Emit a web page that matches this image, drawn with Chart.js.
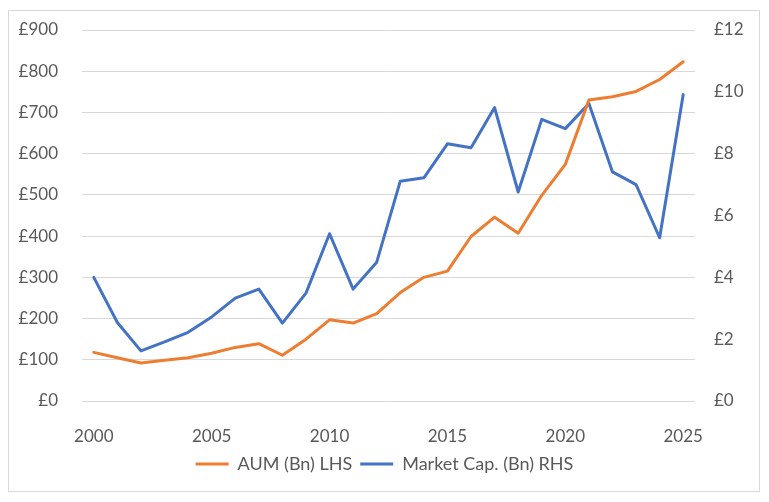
<!DOCTYPE html>
<html>
<head>
<meta charset="utf-8">
<script src="https://cdn.jsdelivr.net/npm/chart.js@4.4.0/dist/chart.umd.min.js"></script>
<style>
    html, body { margin: 0; padding: 0; background: #fff; }
    #wrap { width: 769px; height: 502px; position: relative; }
</style>
</head>
<body>
<div id="wrap"><canvas id="chart"></canvas></div>
<script>
// years on the x axis
const years = ['2000', '2001', '2002', '2003', '2004', '2005', '2006', '2007', '2008', '2009',
    '2010', '2011', '2012', '2013', '2014', '2015', '2016', '2017', '2018', '2019',
    '2020', '2021', '2022', '2023', '2024', '2025'];

// AUM in £bn, left axis
const aum = [118, 105, 92, 99, 105, 116, 130, 139, 111, 150,
    197, 189, 212, 263, 300, 315, 399, 446, 407, 499,
    574, 730, 738, 751, 780, 823];

// Market cap in £bn, right axis
const marketCap = [4.0, 2.54, 1.62, 1.91, 2.22, 2.72, 3.33, 3.62, 2.52, 3.49,
    5.41, 3.62, 4.49, 7.11, 7.22, 8.32, 8.19, 9.49, 6.76, 9.11,
    8.81, 9.62, 7.41, 7.0, 5.28, 9.91];

const leftTicks = { min: 0, max: 900, step: 100 };
const rightTicks = { min: 0, max: 12, step: 2 };

const TEXT = '#595959';
const GRID = '#d9d9d9';
const FONT = { family: 'Lato, "Open Sans", sans-serif', size: 17 };
const LEGEND_FONT = { family: 'Lato, "Open Sans", sans-serif', size: 18 };

// white background plus the thin frame round the chart
const framePlugin = {
    id: 'frame',
    beforeDraw: (chart) => {
        const ctx = chart.ctx;
        ctx.save();
        ctx.fillStyle = '#fff';
        ctx.fillRect(0, 0, chart.width, chart.height);
        ctx.strokeStyle = GRID;
        ctx.lineWidth = 1;
        ctx.strokeRect(8.5, 10.5, 751, 481);
        ctx.restore();
    }
};

// fixed axis width; the big tick padding should not push the plot down
const fixWidth = width => scale => {
    scale.width = width;
    scale.paddingTop = 0;
    scale.paddingBottom = 0;
};

new Chart(document.getElementById('chart'), {
    type: 'line',
    data: {
        labels: years,
        datasets: [{
            label: 'AUM (Bn) LHS',
            data: aum,
            yAxisID: 'y',
            borderColor: '#ED7D31',
            backgroundColor: '#ED7D31',
            borderWidth: 3,
            pointRadius: 0,
            tension: 0,
            borderJoinStyle: 'round',
            borderCapStyle: 'round'
        }, {
            label: 'Market Cap. (Bn) RHS',
            data: marketCap,
            yAxisID: 'y1',
            borderColor: '#4472C4',
            backgroundColor: '#4472C4',
            borderWidth: 3,
            pointRadius: 0,
            tension: 0,
            borderJoinStyle: 'round',
            borderCapStyle: 'round'
        }]
    },
    options: {
        responsive: true,
        maintainAspectRatio: false,
        animation: false,
        layout: { padding: { top: 30, bottom: 19, left: 0, right: 0 } },
        plugins: {
            legend: {
                position: 'bottom',
                labels: {
                    color: TEXT,
                    font: LEGEND_FONT,
                    boxWidth: 33,
                    boxHeight: 3,
                    padding: 8,
                    // flat bars, no outline
                    generateLabels: (chart) => Chart.defaults.plugins.legend.labels
                        .generateLabels(chart)
                        .map(item => ({ ...item, lineWidth: 0 }))
                }
            },
            tooltip: { enabled: false }
        },
        scales: {
            x: {
                offset: true,
                grid: { display: false },
                border: { display: false },
                ticks: {
                    color: TEXT,
                    font: FONT,
                    autoSkip: false,
                    maxRotation: 0,
                    padding: 17,
                    callback: function (value) {
                        const label = this.getLabelForValue(value);
                        return parseInt(label) % 5 === 0 ? label : '';
                    }
                },
                afterFit: scale => { scale.height = 46; }
            },
            y: {
                position: 'left',
                min: leftTicks.min,
                max: leftTicks.max,
                grid: { color: GRID, drawTicks: false },
                border: { display: false },
                ticks: {
                    stepSize: leftTicks.step,
                    color: TEXT,
                    font: FONT,
                    padding: 24,
                    callback: value => '£' + value
                },
                afterFit: fixWidth(82)
            },
            y1: {
                position: 'right',
                min: rightTicks.min,
                max: rightTicks.max,
                grid: { display: false, drawTicks: false },
                border: { display: false },
                ticks: {
                    stepSize: rightTicks.step,
                    color: TEXT,
                    font: FONT,
                    padding: 19,
                    callback: value => '£' + value
                },
                afterFit: fixWidth(74)
            }
        }
    },
    plugins: [framePlugin]
});
</script>
</body>
</html>
